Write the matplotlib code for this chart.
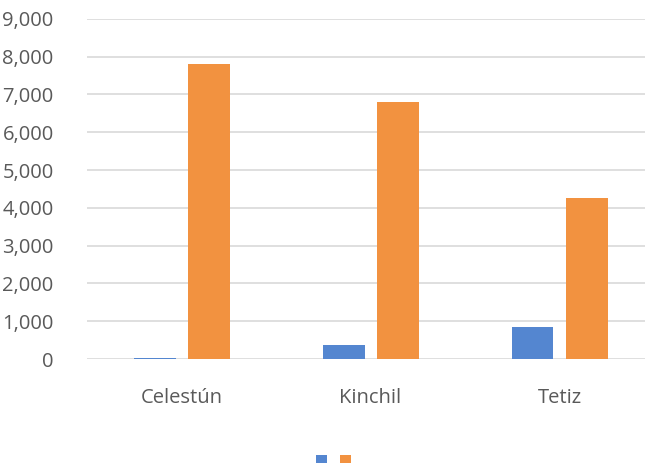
import numpy as np
import matplotlib.pyplot as plt
from matplotlib.ticker import FuncFormatter

# Dados
categorias = ['Celestún', 'Kinchil', 'Tetiz']
serie_azul = [30, 370, 850]
serie_laranja = [7800, 6800, 4270]

cor_azul = '#5486d0'
cor_laranja = '#f29240'
cor_texto = '#595959'

plt.rcParams['font.family'] = ['Open Sans', 'DejaVu Sans']

fig = plt.figure(figsize=(6.45, 4.63), dpi=100)
ax = fig.add_axes([0.135, 0.2246, 0.879, 0.7348])

x = np.arange(len(categorias))
larg = 0.222
b1 = ax.bar(x - 0.143, serie_azul, larg, color=cor_azul, zorder=3)
b2 = ax.bar(x + 0.143, serie_laranja, larg, color=cor_laranja, zorder=3)

ax.set_xlim(-0.5, 2.5)
ax.set_ylim(0, 9000)
ax.set_yticks(range(0, 9001, 1000))
ax.yaxis.set_major_formatter(FuncFormatter(lambda v, p: f'{int(v):,}'))
ax.set_xticks(x)
ax.set_xticklabels(categorias)

ax.grid(axis='y', color='#d9d9d9', linewidth=1.2, zorder=0)
for s in ax.spines.values():
    s.set_visible(False)
ax.tick_params(axis='both', length=0, labelsize=14.5, colors=cor_texto)
ax.tick_params(axis='y', pad=24)
ax.tick_params(axis='x', pad=21)

ax.legend(handles=[b1, b2], labels=['', ''], loc='lower center',
          bbox_to_anchor=(0.435, -0.36), ncol=2, frameon=False,
          handlelength=0.8, handleheight=0.8, columnspacing=0.9,
          handletextpad=0.0)

fig.savefig('out.png', dpi=100)
